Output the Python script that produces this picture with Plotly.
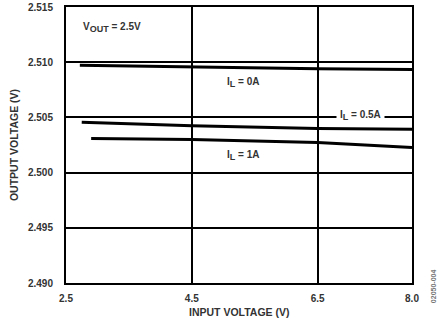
import plotly.graph_objects as go

# Data
vin_0A = [2.72, 4.5, 6.5, 8.0]
vout_0A = [2.50973, 2.50955, 2.50940, 2.50935]

vin_05A = [2.75, 4.5, 6.5, 8.0]
vout_05A = [2.50455, 2.50425, 2.50400, 2.50392]

vin_1A = [2.9, 4.5, 6.5, 8.0]
vout_1A = [2.50309, 2.50300, 2.50272, 2.50227]

x_ticks = [2.5, 4.5, 6.5, 8.0]
x_ticklabels = ["2.5", "4.5", "6.5", "8.0"]
y_ticks = [2.490, 2.495, 2.500, 2.505, 2.510, 2.515]
y_ticklabels = ["2.490", "2.495", "2.500", "2.505", "2.510", "2.515"]

FONT = "Liberation Sans, Arial, sans-serif"
TXT = "#333333"


def f(size=10, color=TXT):
    return dict(family=FONT, size=size, color=color, weight="bold")


fig = go.Figure()
for xs, ys in [(vin_0A, vout_0A), (vin_05A, vout_05A), (vin_1A, vout_1A)]:
    fig.add_trace(go.Scatter(x=xs, y=ys, mode="lines",
                             line=dict(color="black", width=3),
                             showlegend=False, hoverinfo="skip"))

SUB = "<sub><span style='font-size:9px'>%s</span></sub>"
fig.add_annotation(x=3.23, y=2.51318, text="V" + SUB % "OUT" + " = 2.5V",
                   showarrow=False, font=f())
fig.add_annotation(x=5.31, y=2.50818, text="I" + SUB % "L" + " = 0A",
                   showarrow=False, font=f())
fig.add_annotation(x=7.18, y=2.50518, text="I" + SUB % "L" + " = 0.5A",
                   showarrow=False, font=f(), bgcolor="white", borderpad=3)
fig.add_annotation(x=5.31, y=2.50155, text="I" + SUB % "L" + " = 1A",
                   showarrow=False, font=f())
fig.add_annotation(xref="paper", yref="paper", x=1.061, y=-0.011,
                   text="02050-004", textangle=-90, showarrow=False,
                   font=dict(family=FONT, size=7, color="#777777"),
                   xanchor="center", yanchor="middle")
fig.add_annotation(xref="paper", yref="paper", x=0.5, y=-0.105,
                   text="INPUT VOLTAGE (V)", showarrow=False, font=f(10.5),
                   xanchor="center", yanchor="middle")
fig.add_annotation(xref="paper", yref="paper", x=-0.150, y=0.5,
                   text="OUTPUT VOLTAGE (V)", showarrow=False, font=f(10.5),
                   textangle=-90, xanchor="center", yanchor="middle")

fig.update_layout(
    width=443, height=322,
    margin=dict(l=66, r=31, t=7, b=39, autoexpand=False),
    paper_bgcolor="white", plot_bgcolor="white",
    font=f(),
    xaxis=dict(range=[2.5, 8.0], tickvals=x_ticks, ticktext=x_ticklabels,
               showgrid=True, gridcolor="black", gridwidth=1.5,
               showline=True, linecolor="black", linewidth=2, mirror=True,
               zeroline=False, ticks="", ticklabelstandoff=5,
               automargin=False, tickfont=f()),
    yaxis=dict(range=[2.490, 2.515], tickvals=y_ticks, ticktext=y_ticklabels,
               showgrid=True, gridcolor="black", gridwidth=1.5,
               showline=True, linecolor="black", linewidth=2, mirror=True,
               zeroline=False, ticks="", ticklabelstandoff=9,
               automargin=False, tickfont=f()),
)

# remove the default 8px page margin so the figure sits at the window origin
fig.write_html("out.html", config={"displayModeBar": False},
               post_script="document.body.style.margin='0';")
